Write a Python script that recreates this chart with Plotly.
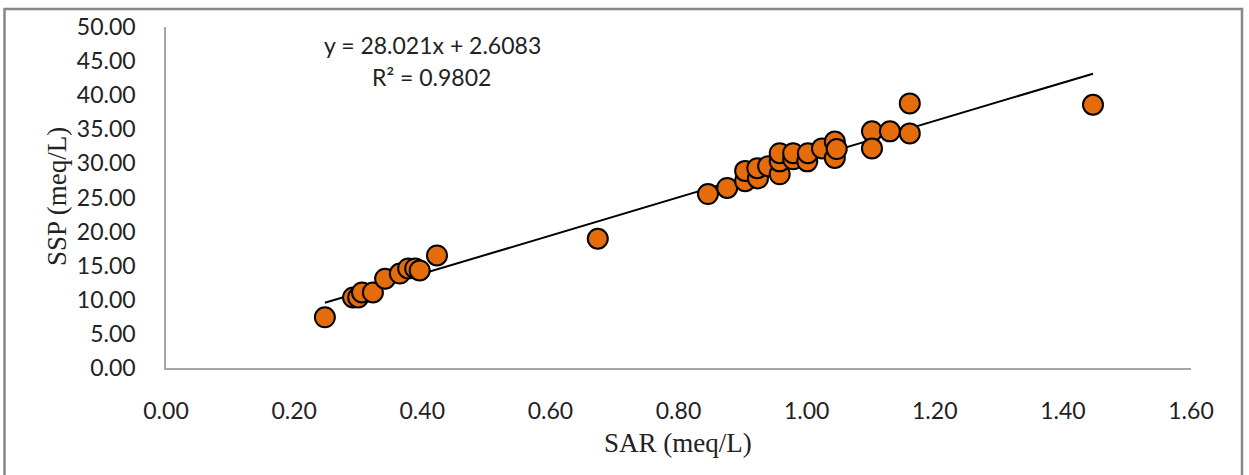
import plotly.graph_objects as go
import numpy as np

sar = [0.248, 0.292, 0.300, 0.306, 0.323, 0.342, 0.365, 0.378, 0.389, 0.396, 0.423,
       0.674,
       0.846, 0.876, 0.904, 0.904, 0.924, 0.923, 0.940, 0.958, 0.958, 0.958,
       0.979, 0.979, 1.001, 1.002, 1.024, 1.044, 1.044, 1.047,
       1.102, 1.102, 1.130, 1.161, 1.161, 1.447]
ssp = [7.43, 10.35, 10.35, 11.08, 11.08, 13.1, 13.85, 14.6, 14.6, 14.3, 16.5,
       18.95,
       25.5, 26.4, 27.4, 28.9, 27.8, 29.3, 29.6, 28.4, 30.3, 31.5,
       30.6, 31.5, 30.3, 31.5, 32.2, 33.2, 30.8, 32.1,
       34.7, 32.2, 34.7, 34.4, 38.8, 38.6]

slope = 28.021
intercept = 2.6083
r2 = 0.9802

x_ticks = [0.0, 0.2, 0.4, 0.6, 0.8, 1.0, 1.2, 1.4, 1.6]
y_ticks = [0, 5, 10, 15, 20, 25, 30, 35, 40, 45, 50]

xl = np.array([min(sar), max(sar)])
yl = slope * xl + intercept

fig = go.Figure()
fig.add_trace(go.Scatter(x=xl, y=yl, mode="lines",
                         line=dict(color="black", width=2), hoverinfo="skip"))
fig.add_trace(go.Scatter(x=sar, y=ssp, mode="markers",
                         marker=dict(size=20, color="#E46C0A",
                                     line=dict(color="black", width=2))))

tick_font = dict(family="Lato", size=23, color="#222")
fig.update_layout(
    width=1249, height=475,
    margin=dict(l=166, r=58, t=25, b=107),
    paper_bgcolor="white", plot_bgcolor="white",
    showlegend=False,
    xaxis=dict(range=[0, 1.6], tickvals=x_ticks,
               ticktext=[f"{v:.2f}" for v in x_ticks],
               showgrid=False, zeroline=False, showline=True,
               linecolor="#a6a6a6", linewidth=1.5, ticks="",
               tickfont=tick_font, ticklabelstandoff=22),
    yaxis=dict(range=[0, 50], tickvals=y_ticks,
               ticktext=[f"{v:.2f}" for v in y_ticks],
               showgrid=False, zeroline=False, showline=True,
               linecolor="#a6a6a6", linewidth=1.5, ticks="",
               tickfont=tick_font, ticklabelstandoff=24),
    annotations=[
        dict(text="SAR (meq/L)", xref="paper", yref="paper",
             x=(678 - 166) / 1025, y=(368 - 443) / 343,
             xanchor="center", yanchor="middle", showarrow=False,
             font=dict(family="Liberation Serif", size=27, color="#222")),
        dict(text="SSP (meq/L)", xref="paper", yref="paper",
             x=(57 - 166) / 1025, y=(368 - 196) / 343, textangle=-90,
             xanchor="center", yanchor="middle", showarrow=False,
             font=dict(family="Liberation Serif", size=27, color="#222")),
        dict(text=f"y = {slope}x + {intercept}", xref="paper", yref="paper",
             x=(432 - 166) / 1025, y=(368 - 43) / 343,
             xanchor="center", yanchor="middle", showarrow=False,
             font=dict(family="Lato", size=23, color="#222")),
        dict(text=f"R² = {r2}", xref="paper", yref="paper",
             x=(431 - 166) / 1025, y=(368 - 75) / 343,
             xanchor="center", yanchor="middle", showarrow=False,
             font=dict(family="Lato", size=23, color="#222")),
    ],
    shapes=[dict(type="rect", xref="paper", yref="paper",
                 x0=(4.5 - 166) / 1025, x1=(1242 - 166) / 1025,
                 y0=(368 - 485) / 343, y1=(368 - 7) / 343,
                 line=dict(color="#888888", width=2.5), layer="below")],
)

fig.write_html("out.html")
